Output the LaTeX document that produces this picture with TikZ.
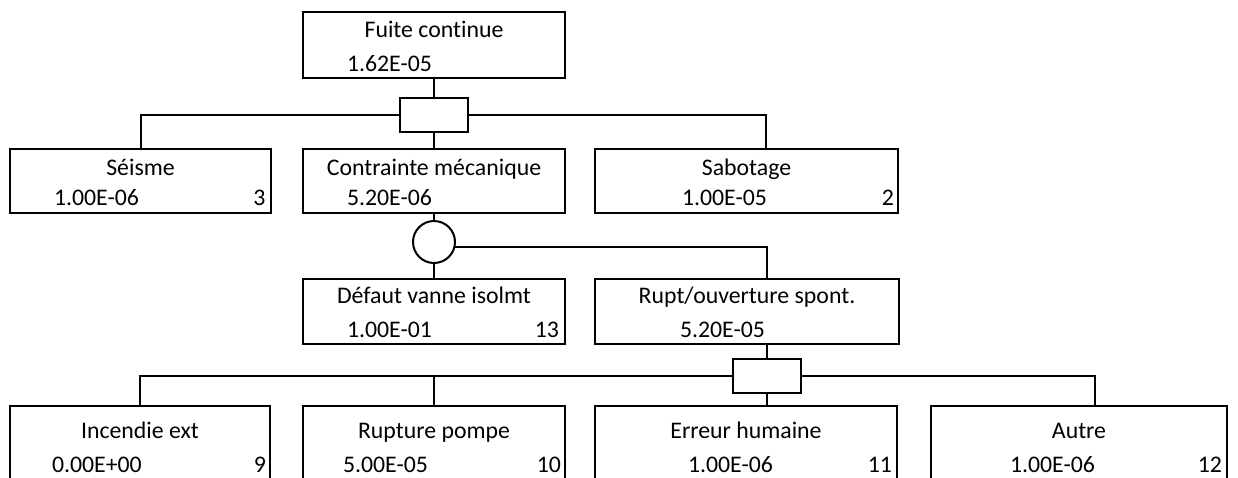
\documentclass[tikz,border=0pt]{standalone}
\usepackage{fontspec}
\setmainfont{Carlito}[Ligatures={NoCommon}]
\begin{document}
\begin{tikzpicture}[x=1pt,y=-1pt,line width=2pt,
  box/.style={draw,rectangle,inner sep=0pt,outer sep=0pt},
  andgate/.style={draw,rectangle,minimum width=68pt,minimum height=34pt,inner sep=0pt,outer sep=0pt},
  orgate/.style={draw,circle,minimum size=42pt,inner sep=0pt,outer sep=0pt},
  txt/.style={inner sep=0pt,font=\fontsize{23.8}{28}\selectfont},
  title/.style={txt,anchor=base},
  value/.style={txt,anchor=base west},
  index/.style={txt,anchor=base east}]
\clip (0,0) rectangle (1238,477);

% event boxes
\node[box,minimum width=262pt,minimum height=66pt] (fuite) at (434,45) {};
\node[box,minimum width=261pt,minimum height=64pt] (seisme) at (140.5,181) {};
\node[box,minimum width=262pt,minimum height=64pt] (contrainte) at (434,181) {};
\node[box,minimum width=303pt,minimum height=64pt] (sabotage) at (746.5,181) {};
\node[box,minimum width=262pt,minimum height=65pt] (defaut) at (434,311.5) {};
\node[box,minimum width=304pt,minimum height=65pt] (rupt) at (747,311.5) {};
\node[box,minimum width=260pt,minimum height=104pt] (incendie) at (140,458) {};
\node[box,minimum width=262pt,minimum height=104pt] (rupture) at (434,458) {};
\node[box,minimum width=302pt,minimum height=104pt] (erreur) at (746,458) {};
\node[box,minimum width=296pt,minimum height=104pt] (autre) at (1079,458) {};

% gates
\node[andgate] (g1) at (434,115) {};
\node[orgate] (g2) at (434,242) {};
\node[andgate] (g3) at (767,376) {};

% connectors
\draw (fuite.south) -- (g1.north);
\draw (g1.south) -- (contrainte.north);
\draw (g1.west) -| (seisme.north);
\draw (g1.east) -| ([xshift=19.5pt]sabotage.north);

\draw (contrainte.south) -- (g2.north);
\draw (g2.south) -- (defaut.north);
\draw (g2.-14) -| ([xshift=20pt]rupt.north);

\draw ([xshift=20pt]rupt.south) -- (g3.north);
\draw (g3.south) -- ([xshift=21pt]erreur.north);
\draw (g3.west) -| (incendie.north);
\draw (rupture.north) -- (rupture.north |- g3.west);
\draw (g3.east) -| ([xshift=16pt]autre.north);

% labels
\node[title] (t1) at (434,37) {Fuite continue};
\node[value] (v1) at (346,71) {1.62E-05};

\node[title] (t2) at (140.5,175) {Séisme};
\node[value] (v2) at (53,205) {1.00E-06};
\node[index] (n2) at (266.5,205) {3};

\node[title] (t3) at (434,175) {Contrainte mécanique};
\node[value] (v3) at (346,205) {5.20E-06};

\node[title] (t4) at (746.5,175) {Sabotage};
\node[value] (v4) at (681,205) {1.00E-05};
\node[index] (n4) at (895,205) {2};

\node[title] (t5) at (434,303) {Défaut vanne isolmt};
\node[value] (v5) at (346,337) {1.00E-01};
\node[index] (n5) at (560,337) {13};

\node[title] (t6) at (747,303) {Rupt/ouverture spont.};
\node[value] (v6) at (679,337) {5.20E-05};

\node[title] (t7) at (140,438) {Incendie ext};
\node[value] (v7) at (51,472) {0.00E+00};
\node[index] (n7) at (267,472) {9};

\node[title] (t8) at (434,438) {Rupture pompe};
\node[value] (v8) at (342,472) {5.00E-05};
\node[index] (n8) at (562,472) {10};

\node[title] (t9) at (746,438) {Erreur humaine};
\node[value] (v9) at (687,472) {1.00E-06};
\node[index] (n9) at (893,472) {11};

\node[title] (t10) at (1079,438) {Autre};
\node[value] (v10) at (1009,472) {1.00E-06};
\node[index] (n10) at (1223,472) {12};
\end{tikzpicture}
\end{document}
